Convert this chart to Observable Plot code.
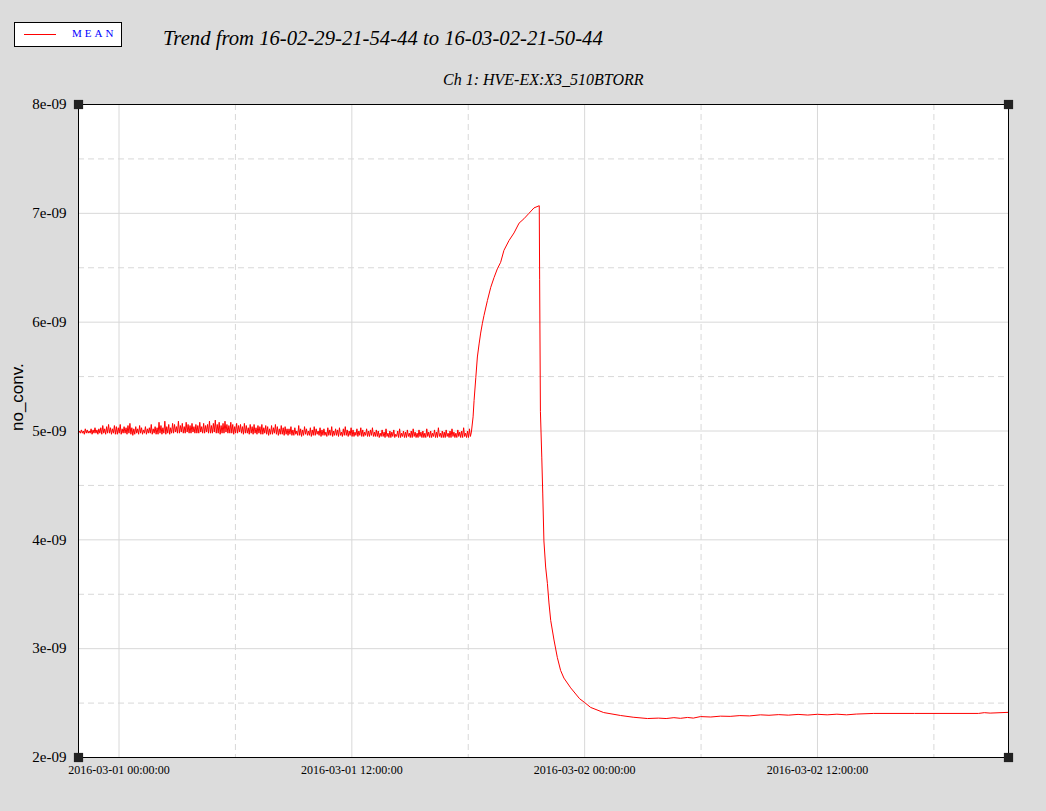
<!DOCTYPE html>
<html>
<head>
<meta charset="utf-8">
<script src="https://cdn.jsdelivr.net/npm/d3@7"></script>
<script src="https://cdn.jsdelivr.net/npm/@observablehq/plot@0.6"></script>
<style>
  html, body { margin: 0; padding: 0; background: #dcdcdc; }
  #wrap { position: relative; width: 1046px; height: 811px; overflow: hidden; }
  #head { position: relative; width: 1046px; height: 92px; }
  #legend { position: absolute; left: 14px; top: 22px; width: 106px; height: 23px; background: #fff; border: 1px solid #000; }
  #legend .sw { position: absolute; left: 9px; top: 11px; width: 32px; height: 1px; background: #ff0000; }
  #legend .lab { position: absolute; left: 57px; top: 4px; font: 11px "Liberation Serif", serif; color: #0000ff; letter-spacing: 3px; }
  #title { position: absolute; left: 163px; top: 27px; font: italic 20.7px "Liberation Serif", serif; color: #000; white-space: nowrap; }
  #subtitle { position: absolute; left: 443px; top: 71px; font: italic 16px "Liberation Serif", serif; color: #000; white-space: nowrap; }
  svg { display: block; }
</style>
</head>
<body>
<div id="wrap">
  <div id="head">
    <div id="legend"><div class="sw"></div><div class="lab">MEAN</div></div>
    <div id="title">Trend from 16-02-29-21-54-44 to 16-03-02-21-50-44</div>
    <div id="subtitle">Ch 1: HVE-EX:X3_510BTORR</div>
  </div>
  <div id="chart"></div>
</div>
<script>
// ---- data ----
const seriesName = "MEAN";
const yLabel = "no_conv.";
const domainStart = "2016-02-29T21:54:44Z";
const domainEnd = "2016-03-02T21:50:44Z";
const refTime = "2016-03-01T00:00:00Z";   // curve hours below are relative to this

// noisy segment: one low/high pair every 0.1 h from domainStart (units of 1e-09)
const noiseStepHours = 0.1;
const noiseLow = [
  4.98, 4.98, 4.98, 4.97, 4.98, 4.98, 4.98, 4.97, 4.98, 4.98, 4.97,
  4.98, 4.97, 4.98, 4.97, 4.98, 4.98, 4.97, 4.98, 4.97, 4.97,
  4.98, 4.97, 4.98, 4.98, 4.97, 4.98, 4.97, 4.96, 4.97, 4.98,
  4.97, 4.98, 4.97, 4.98, 4.97, 4.98, 4.98, 4.97, 4.98, 4.97,
  4.97, 4.98, 4.97, 4.98, 4.97, 4.98, 4.97, 4.98,
  4.98, 4.99, 4.98, 4.98, 4.99, 4.98, 4.98, 4.99, 4.98, 4.98,
  4.99, 4.98, 4.98, 4.98, 4.99, 4.98, 4.98, 4.99, 4.98, 4.98,
  4.98, 4.99, 4.98, 4.98, 4.97, 4.98, 4.98, 4.99, 4.98, 4.98,
  4.98, 4.97, 4.98, 4.98, 4.99, 4.98, 4.97, 4.98, 4.98, 4.97,
  4.98, 4.97, 4.98, 4.97, 4.98, 4.97, 4.97, 4.98, 4.97, 4.96,
  4.97, 4.97, 4.98, 4.97, 4.96, 4.97, 4.97, 4.96, 4.97,
  4.96, 4.97, 4.96, 4.96, 4.97, 4.96, 4.96, 4.95, 4.96, 4.97,
  4.96, 4.96, 4.95, 4.96, 4.96, 4.97, 4.96, 4.95, 4.96, 4.96,
  4.95, 4.96, 4.96, 4.95, 4.96, 4.96, 4.95, 4.96, 4.95, 4.96,
  4.96, 4.95, 4.96, 4.95, 4.95, 4.96, 4.95, 4.96, 4.95, 4.95,
  4.96, 4.95, 4.95, 4.96, 4.95, 4.95,
  4.95, 4.94, 4.95, 4.95, 4.94, 4.95, 4.94, 4.94, 4.95, 4.94,
  4.95, 4.94, 4.94, 4.95, 4.94, 4.94, 4.95, 4.94, 4.94, 4.95,
  4.94, 4.94, 4.95, 4.94, 4.94, 4.94, 4.95, 4.94, 4.94, 4.95,
  4.94, 4.94, 4.95, 4.94, 4.94, 4.94, 4.95, 4.94, 4.94, 4.95,
  4.94, 4.94, 4.95, 4.94, 4.94, 4.95, 4.94, 4.94, 4.95
];
const noiseHigh = [
  5.00, 5.01, 5.00, 5.02, 5.01, 5.00, 5.02, 5.01, 5.03, 5.01, 5.02,
  5.03, 5.05, 5.02, 5.04, 5.06, 5.03, 5.02, 5.05, 5.04, 5.03,
  5.06, 5.02, 5.04, 5.03, 5.05, 5.07, 5.03, 5.02, 5.04, 5.02,
  5.05, 5.03, 5.01, 5.04, 5.02, 5.03, 5.06, 5.02, 5.04, 5.03,
  5.08, 5.05, 5.03, 5.09, 5.04, 5.06, 5.03, 5.07,
  5.06, 5.04, 5.09, 5.05, 5.07, 5.04, 5.08, 5.06, 5.05, 5.07,
  5.04, 5.06, 5.05, 5.08, 5.04, 5.07, 5.05, 5.06, 5.09, 5.05,
  5.07, 5.10, 5.06, 5.08, 5.05, 5.07, 5.09, 5.06, 5.05, 5.08,
  5.06, 5.04, 5.07, 5.05, 5.06, 5.04, 5.07, 5.05, 5.03, 5.06,
  5.04, 5.06, 5.03, 5.05, 5.04, 5.06, 5.03, 5.05, 5.04, 5.02,
  5.05, 5.03, 5.06, 5.04, 5.02, 5.05, 5.03, 5.04, 5.02,
  5.02, 5.04, 5.01, 5.03, 5.00, 5.05, 5.02, 5.01, 5.04, 5.02,
  5.00, 5.03, 5.01, 5.04, 5.02, 5.00, 5.03, 5.01, 5.02, 4.99,
  5.03, 5.01, 5.04, 5.00, 5.02, 5.01, 5.03, 4.99, 5.02, 5.04,
  5.01, 5.00, 5.03, 5.01, 4.99, 5.02, 5.00, 5.03, 5.01, 4.99,
  5.02, 5.00, 5.01, 5.03, 4.99, 5.01,
  5.00, 4.98, 5.01, 4.99, 5.02, 4.98, 5.00, 4.99, 5.01, 4.97,
  5.00, 5.02, 4.98, 5.00, 4.99, 5.01, 4.98, 5.00, 5.02, 4.99,
  4.98, 5.01, 4.99, 5.00, 4.98, 5.02, 4.99, 5.00, 4.98, 5.01,
  4.99, 5.03, 4.98, 5.00, 4.99, 5.01, 4.98, 5.00, 5.02, 4.99,
  4.98, 5.01, 4.99, 5.00, 5.03, 4.98, 5.00, 5.02, 4.99
];

// rise, drop and tail (hours since refTime, values in units of 1e-09)
const curveHours = [
  18.25, 18.30, 18.39, 18.47, 18.56, 18.64, 18.73, 18.81, 18.99, 19.16, 19.33, 19.50, 19.67, 19.84,
  20.10, 20.36, 20.62, 20.87, 21.13, 21.39, 21.66,
  21.68, 21.72, 21.79, 21.84, 21.90, 21.99, 22.08, 22.16, 22.25, 22.42, 22.59, 22.76, 22.93,
  23.28, 23.74, 24.00, 24.31, 24.98, 25.85, 26.50, 27.24, 27.80, 28.20, 28.60,
  28.94, 29.30, 29.60, 29.97, 30.50, 31.00, 31.50, 32.00, 32.50, 33.06, 33.50, 34.00, 34.50, 35.00,
  35.50, 36.00, 36.50, 37.00, 37.50, 38.00, 38.90, 41.00, 44.30, 44.60, 44.90, 45.85
];
const curveValues = [
  5.13, 5.28, 5.49, 5.68, 5.80, 5.90, 5.99, 6.06, 6.20, 6.32, 6.41, 6.49, 6.55, 6.66,
  6.75, 6.82, 6.91, 6.95, 7.00, 7.05, 7.07,
  6.39, 5.18, 4.76, 4.43, 3.99, 3.75, 3.60, 3.42, 3.26, 3.08, 2.92, 2.80, 2.73,
  2.64, 2.54, 2.505, 2.46, 2.413, 2.386, 2.370, 2.358, 2.362, 2.358, 2.366,
  2.360, 2.368, 2.362, 2.376, 2.372, 2.380, 2.378, 2.385, 2.382, 2.392, 2.388, 2.394, 2.389, 2.396,
  2.390, 2.397, 2.392, 2.398, 2.392, 2.399, 2.405, 2.405, 2.405, 2.412, 2.408, 2.415
];

const xMajorTicks = ["2016-03-01T00:00:00Z", "2016-03-01T12:00:00Z", "2016-03-02T00:00:00Z", "2016-03-02T12:00:00Z"];
const xMinorTicks = ["2016-03-01T06:00:00Z", "2016-03-01T18:00:00Z", "2016-03-02T06:00:00Z", "2016-03-02T18:00:00Z"];
const yMajorTicks = [2, 3, 4, 5, 6, 7, 8];
const yMinorTicks = [2.5, 3.5, 4.5, 5.5, 6.5, 7.5];
const yTickSuffix = "e-09";

// ---- build table ----
const H = 3600e3;
const t0 = new Date(domainStart).getTime();
const tRef = new Date(refTime).getTime();
const rows = [];
noiseLow.forEach((lo, i) => {
  rows.push({t: new Date(t0 + i * noiseStepHours * H), v: lo, s: seriesName});
  rows.push({t: new Date(t0 + (i + 0.5) * noiseStepHours * H), v: noiseHigh[i], s: seriesName});
});
curveHours.forEach((h, i) => rows.push({t: new Date(tRef + h * H), v: curveValues[i], s: seriesName}));

const xDom = [new Date(domainStart), new Date(domainEnd)];
const corners = [
  {x: xDom[0], y: 8}, {x: xDom[1], y: 8}, {x: xDom[0], y: 2}, {x: xDom[1], y: 2}
];
const fmt = d3.utcFormat("%Y-%m-%d %H:%M:%S");

const chart = Plot.plot({
  width: 1046,
  height: 719,
  marginLeft: 78,
  marginRight: 38,
  marginTop: 12,
  marginBottom: 54,
  style: {background: "transparent", fontFamily: "'Liberation Serif', serif", color: "#000", overflow: "visible"},
  x: {type: "utc", domain: xDom},
  y: {domain: [2, 8]},
  marks: [
    Plot.frame({fill: "#ffffff", stroke: "none"}),
    Plot.ruleX(xMinorTicks.map(d => new Date(d)), {stroke: "#d8d8d8", strokeDasharray: "6,4"}),
    Plot.ruleY(yMinorTicks, {stroke: "#d8d8d8", strokeDasharray: "6,4"}),
    Plot.ruleX(xMajorTicks.map(d => new Date(d)), {stroke: "#d8d8d8"}),
    Plot.ruleY(yMajorTicks, {stroke: "#d8d8d8"}),
    Plot.line(rows, {x: "t", y: "v", z: "s", stroke: "#ff0000", strokeWidth: 1, curve: "linear"}),
    Plot.frame({stroke: "#000", strokeWidth: 1}),
    Plot.dot(corners, {x: "x", y: "y", symbol: "square", r: 5.2, fill: "#222", stroke: "none"}),
    Plot.axisY(yMajorTicks, {tickSize: 0, tickPadding: 12, fontSize: 15, tickFormat: d => d + yTickSuffix, label: null}),
    Plot.axisX(xMajorTicks.map(d => new Date(d)), {tickSize: 0, tickPadding: 8, fontSize: 12, tickFormat: fmt, label: null}),
    Plot.text([yLabel], {frameAnchor: "left", dx: -61, rotate: -90, fontSize: 17, fontFamily: "'Liberation Sans', sans-serif", fill: "#000"})
  ]
});
document.getElementById("chart").appendChild(chart);
</script>
</body>
</html>
